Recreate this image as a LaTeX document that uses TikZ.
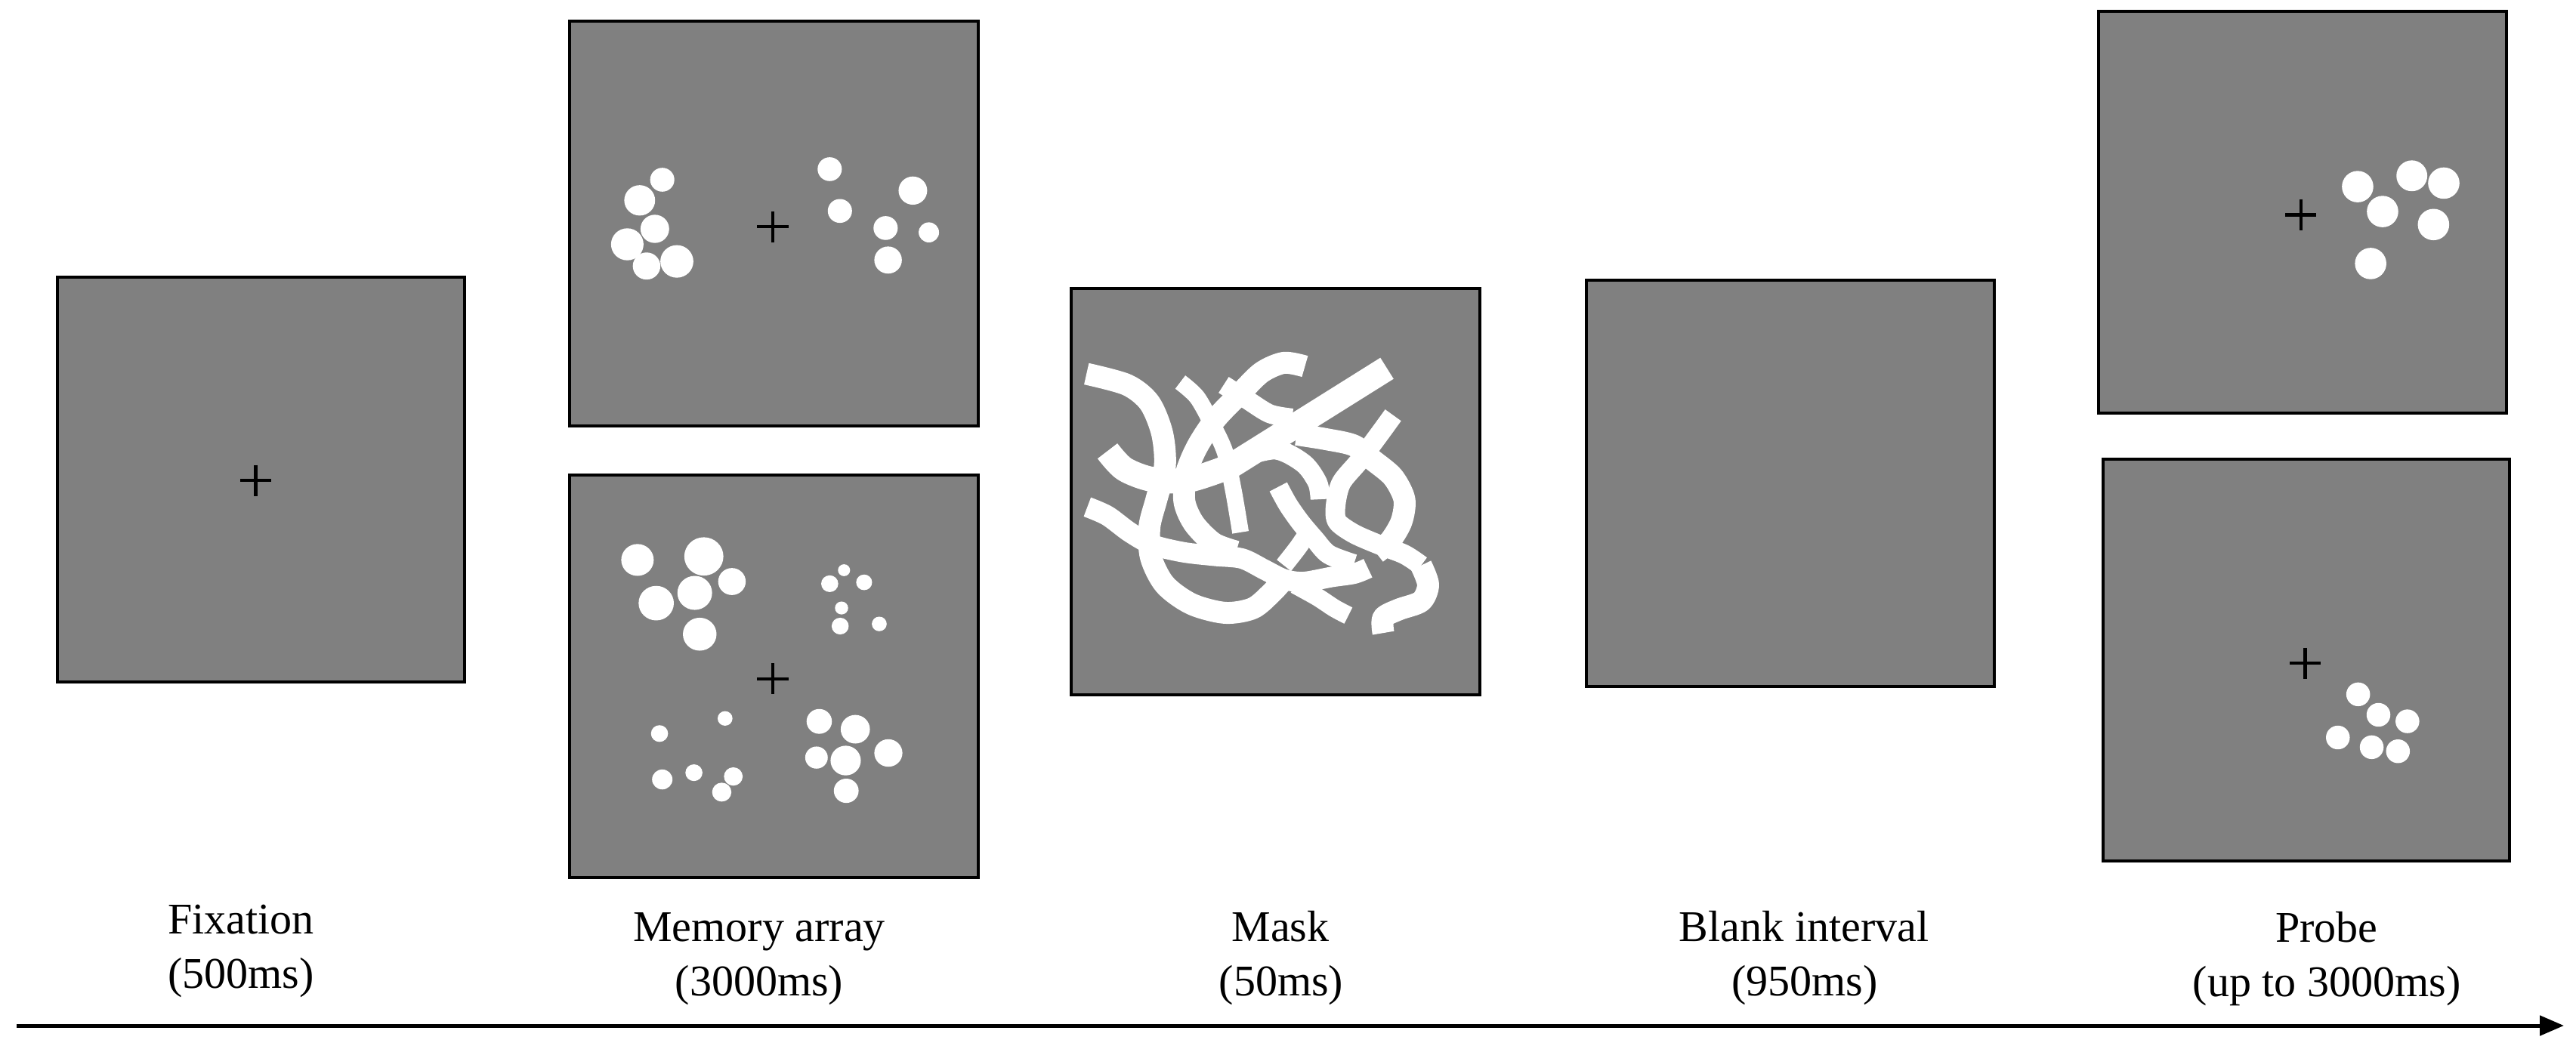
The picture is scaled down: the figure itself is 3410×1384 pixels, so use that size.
\documentclass[tikz,border=0pt]{standalone}
\usepackage{fontspec}
\setmainfont{Liberation Serif}
\usetikzlibrary{arrows.meta}
\definecolor{panelgray}{RGB}{128,128,128}
\tikzset{
  panel/.style={draw=black, fill=panelgray, line width=0.045cm, inner sep=0pt, rectangle},
  dotc/.style={fill=white},
  crossline/.style={draw=black, line width=0.042cm},
  scrib/.style={draw=white, line width=0.29cm, line join=round},
  lbl/.style={anchor=base, inner sep=0pt, font=\fontsize{16.5}{20}\selectfont},
  timeline/.style={draw=black, line width=0.05cm, -{Triangle[length=0.32cm,width=0.26cm]}}
}
\begin{document}
\begin{tikzpicture}[x=0.01cm, y=-0.01cm]
\useasboundingbox (0,0) rectangle (3410,1384);

% panels
\node[panel, minimum width=5.385cm, minimum height=5.355cm] (fix) at (345.5,635) {};
\node[panel, minimum width=5.405cm, minimum height=5.355cm] (memtop) at (1024.5,296) {};
\node[panel, minimum width=5.405cm, minimum height=5.325cm] (membot) at (1024.5,895.5) {};
\node[panel, minimum width=5.405cm, minimum height=5.375cm] (mask) at (1688.5,651) {};
\node[panel, minimum width=5.395cm, minimum height=5.375cm] (blank) at (2370,640) {};
\node[panel, minimum width=5.395cm, minimum height=5.315cm] (probetop) at (3048,281) {};
\node[panel, minimum width=5.375cm, minimum height=5.315cm] (probebot) at (3053,874) {};

% fixation cross
\draw[crossline] (318,636) -- (359,636) (338.5,615.5) -- (338.5,656.5);

% memory array (top)
\begin{scope}[shift={(739.24,18.1)}, xscale=0.36455, yscale=0.35928]
  \foreach \px/\py/\r in {377/612/44, 295/688/56, 350/793/52, 250/850/59, 320/930/50, 430/913/60,
                          985/573/44, 1022/727/44, 1287/652/52, 1188/790/44, 1345/806/37, 1197/908/50}
    \fill[dotc] (\px,\py) circle[radius=\r];
  \draw[crossline] (721,785) -- (835,785) (778,728) -- (778,842);
\end{scope}

% memory array (bottom)
\begin{scope}[shift={(739.24,619.85)}, xscale=0.36455, yscale=0.3575]
  \foreach \px/\py/\r in {287/340/59, 528/327/71, 630/420/50, 355/500/64, 495/462/63, 513/615/61,
                          1037/378/22, 985/428/31, 1110/423/29, 1028/518/24, 1023/585/31, 1165/577/27,
                          605/927/27, 367/983/31, 377/1153/37, 492/1128/31, 635/1142/34, 593/1200/35,
                          947/938/46, 1078/967/53, 937/1072/41, 1043/1083/55, 1198/1055/51, 1045/1195/45}
    \fill[dotc] (\px,\py) circle[radius=\r];
  \draw[crossline] (721,780) -- (835,780) (778,723) -- (778,837);
\end{scope}

% mask
\begin{scope}[shift={(1399.3,369.05)}, xscale=0.3707, yscale=0.365]
  \draw[scrib] plot[smooth] coordinates {(105,345) (250,385) (330,450) (375,560) (385,680) (355,800) (330,900) (335,1010) (385,1110) (480,1180) (600,1212) (700,1195) (770,1135) (810,1090)};
  \draw[scrib, line width=0.33cm] plot[smooth] coordinates {(180,625) (240,690) (340,728) (470,730) (620,680)} -- (1178,325);
  \draw[scrib, line width=0.22cm] plot[smooth] coordinates {(440,375) (500,430) (555,530) (600,630) (630,770) (655,920)};
  \draw[scrib] plot[smooth] coordinates {(885,318) (810,305) (730,340) (650,420) (565,510) (500,610) (460,710) (455,810) (490,890) (560,960) (640,990)};
  \draw[scrib, line width=0.25cm] plot[smooth] coordinates {(595,385) (680,440) (760,490) (840,505)};
  \draw[scrib] plot[smooth] coordinates {(855,565) (960,582) (1060,605) (1130,660) (1200,720) (1240,800) (1230,880) (1190,950) (1140,995)};
  \draw[scrib, line width=0.26cm] plot[smooth] coordinates {(1200,495) (1150,565) (1080,660) (1015,740) (995,820) (1000,880) (1060,925) (1150,965) (1240,1000) (1300,1040)};
  \draw[scrib] plot[smooth] coordinates {(1300,1040) (1325,1110) (1300,1170) (1220,1200) (1165,1230) (1165,1285)};
  \draw[scrib, line width=0.27cm] plot[smooth] coordinates {(108,828) (180,860) (260,920) (340,965) (450,992) (560,1005) (660,1015) (740,1055) (810,1090) (880,1100) (980,1082) (1060,1070) (1110,1050)};
  \draw[scrib, line width=0.26cm] plot[smooth] coordinates {(790,755) (825,820) (870,885) (920,945) (970,1000) (1060,1035)};
  \draw[scrib, line width=0.24cm] plot[smooth] coordinates {(900,915) (860,975) (810,1040)};
  \draw[scrib, line width=0.24cm] plot[smooth] coordinates {(850,1110) (930,1155) (990,1195) (1040,1222)};
  \draw[scrib, line width=0.26cm] plot[smooth] coordinates {(650,650) (780,620) (880,670) (930,740) (940,800)};
\end{scope}

% probe (top)
\begin{scope}[shift={(2769.5,-1.34)}, xscale=0.3586, yscale=0.3585]
  \foreach \px/\py/\r in {980/693/58, 1180/653/57, 1298/680/58, 1072/785/58, 1260/833/58, 1028/977/58}
    \fill[dotc] (\px,\py) circle[radius=\r];
  \draw[crossline] (713,797) -- (827,797) (770,740) -- (770,854);
\end{scope}

% probe (bottom)
\begin{scope}[shift={(2769.5,589.9)}, xscale=0.3582, yscale=0.3573]
  \foreach \px/\py/\r in {983/922/44, 1058/998/44, 1165/1022/44, 908/1082/44, 1033/1118/44, 1130/1133/44}
    \fill[dotc] (\px,\py) circle[radius=\r];
  \draw[crossline] (730,807) -- (844,807) (787,750) -- (787,864);
\end{scope}

% labels
\node[lbl] (lfixa) at (319,1236) {Fixation};
\node[lbl] (lfixb) at (319,1308) {(500ms)};
\node[lbl] (lmema) at (1005,1246) {Memory array};
\node[lbl] (lmemb) at (1005,1318) {(3000ms)};
\node[lbl] (lmaska) at (1695,1246) {Mask};
\node[lbl] (lmaskb) at (1696,1318) {(50ms)};
\node[lbl] (lblanka) at (2388,1246) {Blank interval};
\node[lbl] (lblankb) at (2389,1318) {(950ms)};
\node[lbl] (lprobea) at (3080,1247) {Probe};
\node[lbl] (lprobeb) at (3080,1319) {(up to 3000ms)};

% time axis
\coordinate (tstart) at (22,1358);
\coordinate (tend) at (3394,1358);
\draw[timeline] (tstart) -- (tend);
\end{tikzpicture}
\end{document}
